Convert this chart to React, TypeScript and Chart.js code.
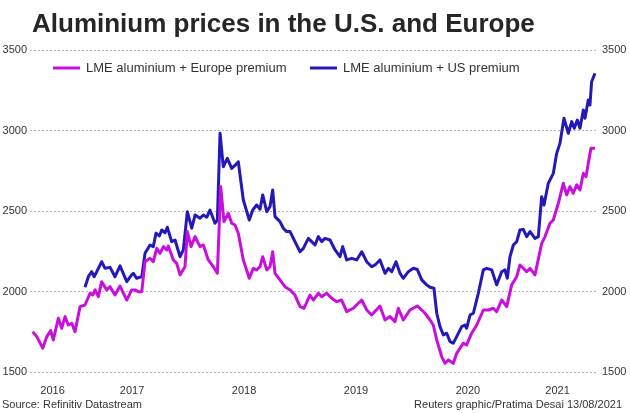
import React, { useEffect, useRef } from "react";
import { Chart, registerables } from "chart.js";

Chart.register(...registerables);

// ---- Data (decimal years, USD/tonne) ----
const europeDates = [2016.613, 2016.649, 2016.703, 2016.739, 2016.774, 2016.797, 2016.842, 2016.872, 2016.902, 2016.931, 2016.962, 2016.991,
  2017.036, 2017.080, 2017.125, 2017.149, 2017.170, 2017.199, 2017.229, 2017.274, 2017.304, 2017.348, 2017.393, 2017.453,
  2017.497, 2017.527, 2017.556, 2017.587, 2017.616, 2017.661, 2017.690, 2017.721, 2017.750, 2017.780, 2017.810, 2017.824,
  2017.869, 2017.899, 2017.929, 2017.973, 2017.994,
  2018.027, 2018.063, 2018.107, 2018.137, 2018.181, 2018.226, 2018.262, 2018.292, 2018.321, 2018.360, 2018.390, 2018.420, 2018.449, 2018.494, 2018.547, 2018.583, 2018.613, 2018.643, 2018.667, 2018.703, 2018.732, 2018.756, 2018.777, 2018.821, 2018.866, 2018.911, 2018.955,
  2019.000, 2019.036, 2019.089, 2019.119, 2019.163, 2019.194, 2019.238, 2019.283, 2019.328, 2019.372, 2019.417, 2019.476, 2019.551, 2019.596, 2019.640, 2019.714, 2019.759, 2019.804, 2019.848, 2019.878, 2019.922, 2019.982,
  2020.047, 2020.087, 2020.116, 2020.161, 2020.190, 2020.221, 2020.265, 2020.295, 2020.324, 2020.369, 2020.399, 2020.458, 2020.488, 2020.533, 2020.578, 2020.637, 2020.681, 2020.726, 2020.756, 2020.801, 2020.846, 2020.890, 2020.935, 2020.964, 2020.994,
  2021.024, 2021.054, 2021.098, 2021.158, 2021.188, 2021.232, 2021.262, 2021.307, 2021.351, 2021.381, 2021.411, 2021.440, 2021.471, 2021.500, 2021.530, 2021.554, 2021.574, 2021.598, 2021.634];

const europeValues = [1751, 1720, 1648, 1720, 1757, 1699, 1834, 1772, 1844, 1792, 1803, 1751,
  1906, 1916, 1989, 1978, 2010, 1968, 2061, 2010, 2030, 1978, 2034, 1947,
  2010, 2010, 1999, 1999, 2185, 2206, 2185, 2268, 2237, 2279, 2258, 2283,
  2196, 2175, 2103, 2154, 2372,
  2279, 2341, 2279, 2289, 2196, 2154, 2113, 2651, 2434, 2486, 2424, 2413, 2362, 2196, 2082, 2144, 2134, 2154, 2216, 2134, 2154, 2247, 2113, 2072, 2030, 2010, 1978,
  1906, 1896, 1978, 1947, 1989, 1968, 1989, 1958, 1937, 1947, 1875, 1896, 1947, 1885, 1854, 1910, 1823, 1844, 1813, 1896, 1823, 1885,
  1910, 1885, 1865, 1823, 1792, 1699, 1596, 1554, 1575, 1554, 1616, 1679, 1668, 1741, 1792, 1885, 1885, 1896, 1875, 1947, 1906, 2041, 2092, 2165, 2144,
  2123, 2144, 2103, 2299, 2341, 2424, 2444, 2548, 2672, 2600, 2651, 2610, 2662, 2631, 2734, 2713, 2796, 2889, 2889];

const usDates = [2017.080, 2017.110, 2017.140, 2017.161, 2017.185, 2017.229, 2017.259, 2017.304, 2017.348, 2017.393, 2017.453, 2017.497, 2017.512, 2017.542, 2017.587, 2017.616, 2017.661, 2017.690, 2017.714, 2017.744, 2017.765, 2017.795, 2017.815, 2017.854, 2017.884, 2017.929, 2017.958, 2017.994,
  2018.033, 2018.063, 2018.107, 2018.137, 2018.167, 2018.196, 2018.241, 2018.262, 2018.286, 2018.315, 2018.351, 2018.390, 2018.429, 2018.449, 2018.494, 2018.547, 2018.578, 2018.613, 2018.643, 2018.667, 2018.703, 2018.732, 2018.756, 2018.777, 2018.821, 2018.851, 2018.881, 2018.911, 2018.955,
  2019.000, 2019.030, 2019.074, 2019.104, 2019.134, 2019.164, 2019.194, 2019.223, 2019.268, 2019.313, 2019.357, 2019.381, 2019.417, 2019.462, 2019.506, 2019.551, 2019.596, 2019.640, 2019.670, 2019.714, 2019.759, 2019.789, 2019.819, 2019.857, 2019.893, 2019.922, 2019.967,
  2020.012, 2020.047, 2020.087, 2020.131, 2020.161, 2020.196, 2020.221, 2020.250, 2020.280, 2020.310, 2020.339, 2020.369, 2020.399, 2020.444, 2020.473, 2020.488, 2020.518, 2020.548, 2020.592, 2020.637, 2020.667, 2020.712, 2020.756, 2020.801, 2020.830, 2020.851, 2020.875, 2020.905, 2020.935, 2020.964, 2020.994,
  2021.024, 2021.054, 2021.098, 2021.128, 2021.158, 2021.179, 2021.217, 2021.262, 2021.292, 2021.321, 2021.357, 2021.396, 2021.426, 2021.449, 2021.476, 2021.500, 2021.530, 2021.545, 2021.574, 2021.589, 2021.604, 2021.634];

const usValues = [2026, 2092, 2123, 2092, 2123, 2185, 2144, 2150, 2092, 2159, 2061, 2103, 2113, 2082, 2092, 2237, 2289, 2279, 2362, 2345, 2382, 2365, 2399, 2310, 2320, 2216, 2258, 2496,
  2393, 2475, 2455, 2475, 2461, 2506, 2424, 2444, 2983, 2775, 2827, 2765, 2790, 2806, 2568, 2444, 2506, 2537, 2511, 2600, 2496, 2527, 2631, 2465, 2434, 2393, 2372, 2372, 2310,
  2247, 2268, 2330, 2310, 2289, 2341, 2310, 2330, 2320, 2258, 2216, 2279, 2196, 2206, 2196, 2247, 2185, 2154, 2165, 2196, 2113, 2144, 2123, 2185, 2113, 2082, 2123,
  2144, 2137, 2072, 2041, 2026, 2020, 1865, 1782, 1730, 1741, 1689, 1679, 1720, 1782, 1792, 1772, 1854, 1865, 1989, 2134, 2144, 2134, 2041, 2123, 2134, 2082, 2216, 2289, 2310, 2382, 2386,
  2341, 2372, 2330, 2341, 2589, 2537, 2672, 2734, 2858, 2920, 3076, 2983, 3055, 3014, 3065, 3014, 3127, 3076, 3190, 3158, 3303, 3355];

const yearTickPositions = [2016.79, 2017.5, 2018.5, 2019.5, 2020.5, 2021.3];
const yearTickLabels = ["2016", "2017", "2018", "2019", "2020", "2021"];

const seriesLabels = ["LME aluminium + Europe premium", "LME aluminium + US premium"];
const titleText = "Aluminium prices in the U.S. and Europe";
const sourceText = "Source: Refinitiv Datastream";
const creditText = "Reuters graphic/Pratima Desai 13/08/2021";

const FONT = '"Liberation Sans", Arial, Helvetica, sans-serif';
const TEXT = "#333333";
const PINK = "#c90fdc";
const BLUE = "#2419b8";

const toPoints = (xs: number[], ys: number[]) =>
  xs.slice(0, Math.min(xs.length, ys.length)).map((x, i) => ({ x, y: ys[i] }));

const decorPlugin = {
  id: "decor",
  afterDraw(chart: any) {
    const ctx = chart.ctx as CanvasRenderingContext2D;
    ctx.save();
    // Title
    ctx.fillStyle = "#262626";
    ctx.font = `bold 26px ${FONT}`;
    ctx.textAlign = "left";
    ctx.textBaseline = "alphabetic";
    ctx.fillText(titleText, 32, 32);

    // Legend inside plot
    const legendY = 68;
    const starts = [53, 310];
    chart.data.datasets.forEach((ds: any, i: number) => {
      const x0 = starts[i];
      ctx.fillStyle = ds.borderColor;
      ctx.fillRect(x0, legendY - 1.5, 27, 3);
      ctx.fillStyle = TEXT;
      ctx.font = `13px ${FONT}`;
      ctx.textAlign = "left";
      ctx.textBaseline = "middle";
      ctx.fillText(ds.label, x0 + 33, legendY + 0.5);
    });

    // Footer
    ctx.font = `11px ${FONT}`;
    ctx.fillStyle = TEXT;
    ctx.textBaseline = "middle";
    ctx.textAlign = "left";
    ctx.fillText(sourceText, 2, 405);
    ctx.textAlign = "right";
    ctx.fillText(creditText, 622, 405);
    ctx.restore();
  },
};

export default function App() {
  const canvasRef = useRef<HTMLCanvasElement | null>(null);

  useEffect(() => {
    if (!canvasRef.current) return;
    Chart.defaults.font.family = FONT;
    Chart.defaults.color = TEXT;
    const plainTick = (v: any) => String(v);
    const chart = new Chart(canvasRef.current, {
      type: "line",
      data: {
        datasets: [
          {
            label: seriesLabels[0],
            data: toPoints(europeDates, europeValues),
            borderColor: PINK,
            backgroundColor: PINK,
            borderWidth: 3,
            pointRadius: 0,
            tension: 0,
            borderJoinStyle: "round",
            yAxisID: "y",
          },
          {
            label: seriesLabels[1],
            data: toPoints(usDates, usValues),
            borderColor: BLUE,
            backgroundColor: BLUE,
            borderWidth: 3,
            pointRadius: 0,
            tension: 0,
            borderJoinStyle: "round",
            yAxisID: "y",
          },
        ],
      },
      options: {
        animation: false,
        responsive: false,
        devicePixelRatio: 1,
        layout: { padding: { top: 50, left: 0, right: 0, bottom: 0 } },
        plugins: {
          legend: { display: false },
          title: { display: false },
          tooltip: { enabled: false },
        },
        scales: {
          x: {
            type: "linear",
            min: 2016.589,
            max: 2021.652,
            grid: { display: false },
            border: { display: false },
            afterBuildTicks: (scale: any) => {
              scale.ticks = yearTickPositions.map((v) => ({ value: v }));
            },
            afterFit: (scale: any) => {
              scale.height = 41;
            },
            ticks: {
              autoSkip: false,
              maxRotation: 0,
              padding: 4,
              font: { size: 11 },
              color: TEXT,
              callback: (v: any) => {
                const i = yearTickPositions.indexOf(Number(v));
                return i >= 0 ? yearTickLabels[i] : "";
              },
            },
          },
          y: {
            type: "linear",
            position: "left",
            min: 1500,
            max: 3500,
            afterFit: (scale: any) => {
              scale.width = 30;
            },
            ticks: { stepSize: 500, padding: 3, font: { size: 11 }, color: TEXT, callback: plainTick },
            grid: { color: "#b8b8b8", lineWidth: 1, drawTicks: false },
            border: { display: false, dash: [2, 2] },
          },
          y2: {
            type: "linear",
            position: "right",
            min: 1500,
            max: 3500,
            afterFit: (scale: any) => {
              scale.width = 33;
            },
            ticks: { stepSize: 500, padding: 5, font: { size: 11 }, color: TEXT, callback: plainTick },
            grid: { display: false, drawTicks: false },
            border: { display: false },
          },
        },
      },
      plugins: [decorPlugin],
    } as any);
    return () => chart.destroy();
  }, []);

  return (
    <div style={{ position: "fixed", left: 0, top: 0, width: 630, height: 413, background: "#ffffff" }}>
      <canvas ref={canvasRef} width={630} height={413} style={{ display: "block", width: 630, height: 413 }} />
    </div>
  );
}
